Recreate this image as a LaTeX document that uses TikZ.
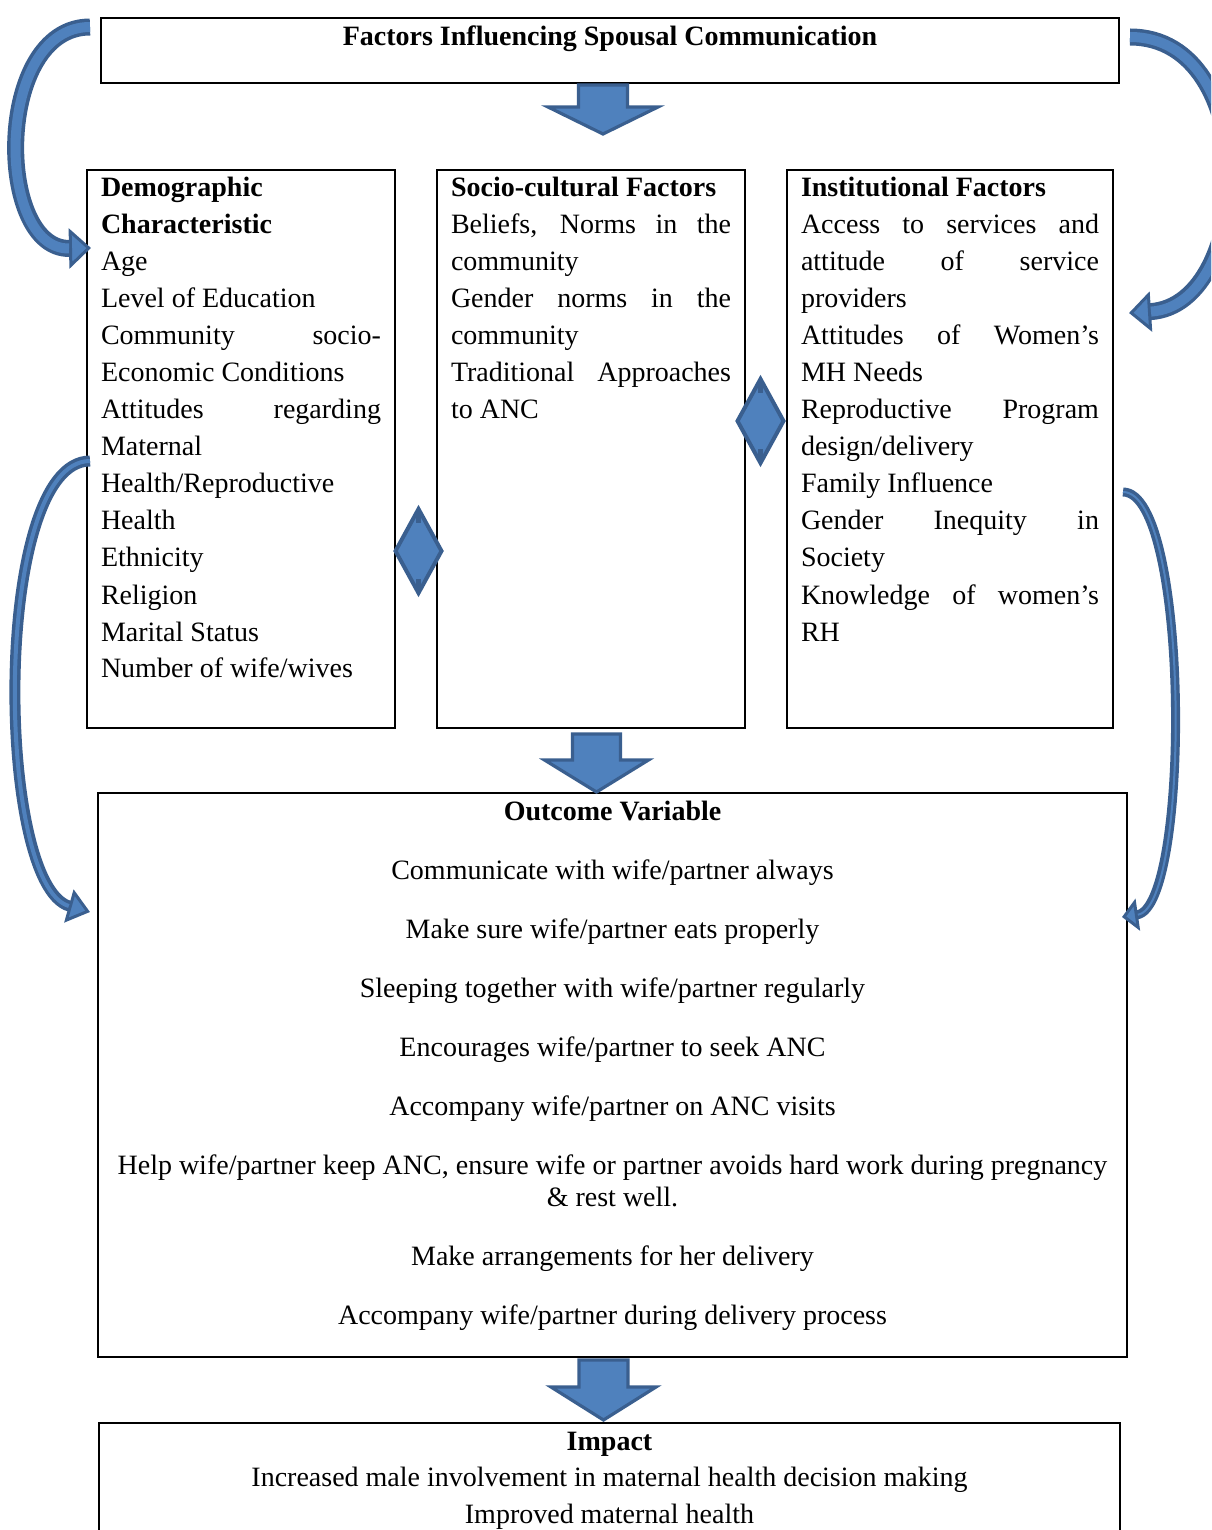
\documentclass[tikz,border=0pt]{standalone}
\usepackage{fontspec}
\setmainfont{Liberation Serif}
\usetikzlibrary{calc,arrows.meta}
\definecolor{arrowfill}{HTML}{4F81BD}
\definecolor{arrowedge}{HTML}{3A5F8F}
\hyphenpenalty=10000
\tikzset{
	framebox/.style   = {draw, line width=1pt, inner ysep=0pt, anchor=north west,
		font=\fontsize{14}{18.5}\selectfont},
	factorbox/.style  = {framebox, inner xsep=7pt, text width=#1, align=justify,
		text height=13.5pt, text depth=265.5pt},
	blockarrow/.style = {fill=arrowfill, draw=arrowedge, line width=1.6pt, line join=miter},
	twinhead/.style   = {blockarrow, line width=2pt},
	bendarrow/.style n args = {3}{draw=arrowedge, line width=#1,
		-{Triangle[width=#2, length=#3, fill=arrowfill, line width=1.5pt]},
		postaction={draw=arrowfill, line width=#1-3.5pt, -, shorten >=#3}}
}
% down block arrow: top centre, shaft half width, head half width, shaft length, head length
\newcommand{\downblock}[5]{%
	\draw[blockarrow] ($#1+(-#2,0)$) -- ++(0,#4) -- ++(#2-#3,0) -- ++(#3,#5)
		-- ++(#3,-#5) -- ++(#2-#3,0) -- ++(0,-#4) -- cycle;}

\begin{document}
\begin{tikzpicture}[x=0.5pt, y=-0.5pt]
	\useasboundingbox (0,0) rectangle (1211,1530);
	\clip (0,0) rectangle (1211,1530);

	% boxes
	\node[framebox, inner xsep=0pt, text width=509pt, align=flush center,
		text height=14pt, text depth=18.5pt] (title) at (100,17)
		{\textbf{Factors Influencing Spousal Communication}};

	\node[factorbox=140pt] (demo) at (86,169)
		{\textbf{Demographic}\newline\textbf{Characteristic}\\
		 Age\\
		 Level of Education\\
		 Community socio-\linebreak Economic Conditions\\
		 Attitudes regarding\linebreak Maternal\newline Health/Reproductive\newline Health\\
		 Ethnicity\\
		 Religion\\
		 Marital Status\\
		 Number of wife/wives};

	\node[factorbox=140pt] (socio) at (436,169)
		{\textbf{Socio-cultural Factors}\\
		 Beliefs, Norms in the\linebreak community\\
		 Gender norms in the\linebreak community\\
		 Traditional Approaches\linebreak to ANC};

	\node[factorbox=149pt] (inst) at (786,169)
		{\textbf{Institutional Factors}\\
		 Access to services and\linebreak attitude of service\linebreak providers\\
		 Attitudes of Women’s\linebreak MH Needs\\
		 Reproductive Program\linebreak design/delivery\\
		 Family Influence\\
		 Gender Inequity in\linebreak Society\\
		 Knowledge of women’s\linebreak RH};

	\node[framebox, inner xsep=0pt, text width=514.5pt, align=flush center,
		font=\fontsize{14}{16}\selectfont,
		text height=13.5pt, text depth=268.5pt] (outcome) at (97,792)
		{\textbf{Outcome Variable}\\[13.5pt]
		 Communicate with wife/partner always\\[13.5pt]
		 Make sure wife/partner eats properly\\[13.5pt]
		 Sleeping together with wife/partner regularly\\[13.5pt]
		 Encourages wife/partner to seek ANC\\[13.5pt]
		 Accompany wife/partner on ANC visits\\[13.5pt]
		 Help wife/partner keep ANC, ensure wife or partner avoids hard work during pregnancy\\
		 \& rest well.\\[13.5pt]
		 Make arrangements for her delivery\\[13.5pt]
		 Accompany wife/partner during delivery process};

	\node[framebox, inner xsep=0pt, text width=510.5pt, align=flush center,
		font=\fontsize{14}{18.25}\selectfont,
		text height=13.5pt, text depth=60pt] (impact) at (98,1422)
		{\textbf{Impact}\\
		 Increased male involvement in maternal health decision making\\
		 Improved maternal health};

	% block arrows between the levels
	\downblock{(title.south)+(-7,1)}{24.5}{55}{22}{27}
	\downblock{(socio.south)+(5.5,5)}{24}{52}{26}{32}
	\downblock{(outcome.south)+(-9,2)}{24.5}{52.5}{27}{33}

	% two-headed arrows between the factor boxes
	\coordinate (ds) at ($(demo.east)!0.5!(socio.west)+(2.5,102)$);
	\coordinate (si) at ($(socio.east)!0.5!(inst.west)+(-5.5,-28)$);
	\foreach \c in {ds,si} {
		\draw[twinhead] ($(\c)+(0,-42)$) -- ++(23,42) -- ++(-23,42) -- ++(-23,-42) -- cycle;
		\draw[arrowedge, line width=2.5pt] ($(\c)+(0,-40)$) -- ++(0,12);
		\draw[arrowedge, line width=2.5pt] ($(\c)+(0,40)$) -- ++(0,-12);
	}

	% curved arrows
	\draw[bendarrow={8.5pt}{20pt}{11pt}] ($(title.north west)+(-10,10)$)
		.. controls +(-96,0) and +(-96,2) .. ($(demo.north west)+(5,79)$);
	\draw[bendarrow={8.5pt}{20pt}{11pt}] ($(title.north east)+(10,20)$)
		.. controls +(132,0) and +(126,-8) .. ($(inst.north east)+(15,144)$);
	\draw[bendarrow={5.5pt}{17pt}{11pt}] ($(demo.north west)+(4,292)$)
		.. controls +(-98,0) and +(-95,-27) .. ($(outcome.north west)+(-7,120)$);
	\draw[bendarrow={4.5pt}{16pt}{8pt}] ($(inst.north east)+(9,323)$)
		.. controls +(67,0) and +(69,-10) .. ($(outcome.north east)+(-6,125)$);
\end{tikzpicture}
\end{document}
